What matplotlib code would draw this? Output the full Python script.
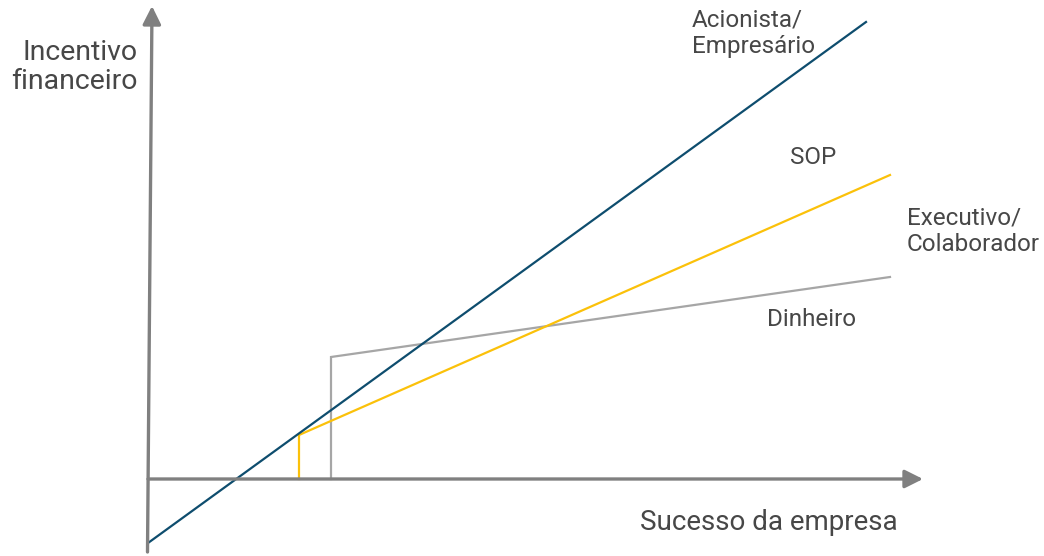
import matplotlib
matplotlib.use("Agg")
import matplotlib.pyplot as plt

plt.rcParams['font.family'] = ['Roboto', 'DejaVu Sans']

# Incentive curves (x = company success, y = financial incentive)
acionista_x = [0.0, 71.8]
acionista_y = [-6.4, 45.7]

sop_x = [15.1, 15.1, 74.2]
sop_y = [0.0, 4.4, 30.4]

dinheiro_x = [18.3, 18.3, 74.2]
dinheiro_y = [0.0, 12.2, 20.2]

labels = ["Acionista/\nEmpresário", "SOP", "Executivo/\nColaborador", "Dinheiro"]
x_title = "Sucesso da empresa"
y_title = "Incentivo\nfinanceiro"

BLUE = "#0e4d6e"
YELLOW = "#fbc10a"
GRAY = "#a6a6a6"
AXIS = "#808080"
TEXT = "#474747"

fig = plt.figure(figsize=(10.44, 5.56), dpi=100)
ax = fig.add_axes([0, 0, 1, 1])
ax.set_xlim(-14.8, 89.6)
ax.set_ylim(-7.7, 47.9)
ax.axis("off")

# axes drawn as arrows
ax.annotate("", xy=(77.5, 0.0), xytext=(0.0, 0.0),
            arrowprops=dict(arrowstyle="-|>,head_length=1.1,head_width=0.55",
                            color=AXIS, lw=2.4, shrinkA=0, shrinkB=0))
ax.annotate("", xy=(0.4, 47.3), xytext=(-0.05, -7.3),
            arrowprops=dict(arrowstyle="-|>,head_length=1.1,head_width=0.55",
                            color=AXIS, lw=2.4, shrinkA=0, shrinkB=0))

ax.plot(dinheiro_x, dinheiro_y, color=GRAY, lw=1.6, solid_joinstyle="miter")
ax.plot(sop_x, sop_y, color=YELLOW, lw=1.6, solid_joinstyle="miter")
ax.plot(acionista_x, acionista_y, color=BLUE, lw=1.6)

lab_kw = dict(color=TEXT, fontsize=17.5, va="center", ha="left", linespacing=1.22)
ax.text(54.4, 44.6, labels[0], **lab_kw)
ax.text(64.2, 32.2, labels[1], **lab_kw)
ax.text(75.9, 24.8, labels[2], **lab_kw)
ax.text(61.9, 15.9, labels[3], **lab_kw)

ax.text(-1.0, 41.2, y_title, color=TEXT, fontsize=20.5, ha="right", va="center",
        linespacing=1.12)
ax.text(49.2, -4.4, x_title, color=TEXT, fontsize=20, ha="left", va="center")

fig.savefig("out.png", dpi=100)
